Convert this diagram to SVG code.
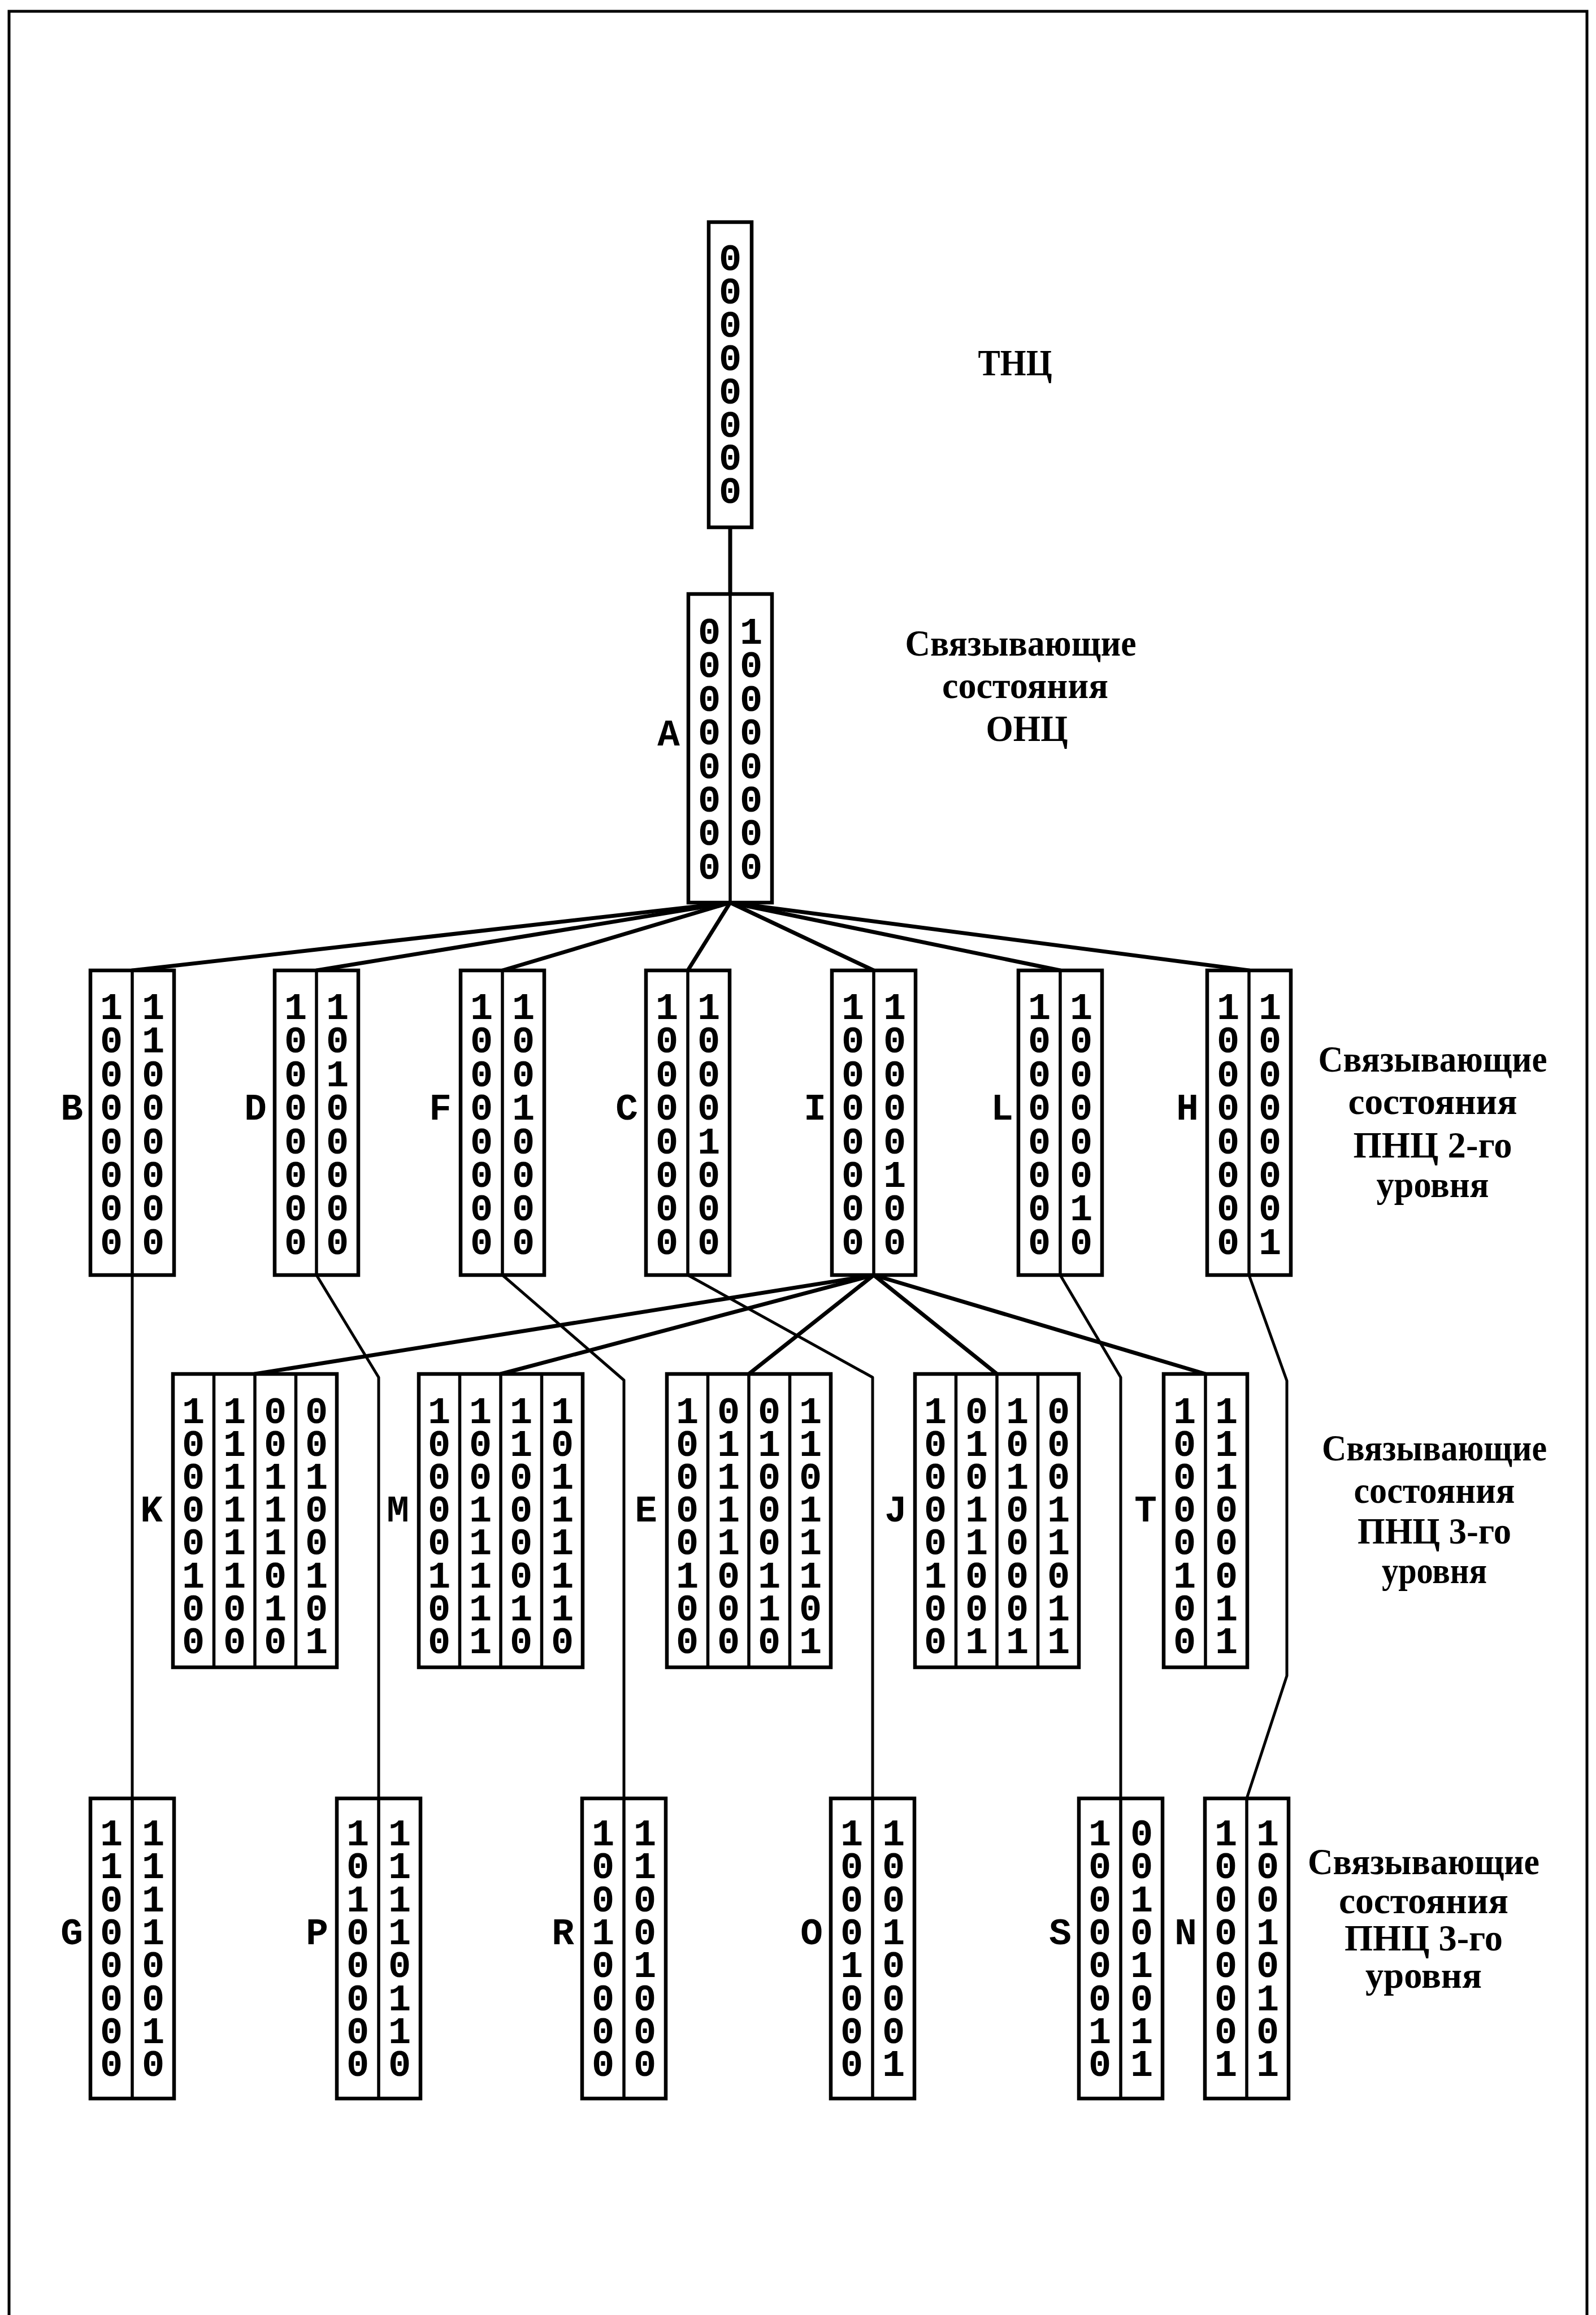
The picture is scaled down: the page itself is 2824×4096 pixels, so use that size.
<svg xmlns="http://www.w3.org/2000/svg" width="2824" height="4096" viewBox="0 0 2824 4096">
<style>
.box{fill:#fff;stroke:#000;stroke-width:6.5}
.dv{stroke:#000;stroke-width:5.5}
.d{font-family:"Liberation Mono",monospace;font-size:67px;font-weight:700;text-anchor:middle;fill:#000}
.nl{font-family:"Liberation Mono",monospace;font-size:66px;font-weight:700;text-anchor:middle;fill:#000}
.lb{font-family:"Liberation Serif",serif;font-size:66px;font-weight:700;text-anchor:middle;fill:#000}
.c{fill:none;stroke:#000;stroke-width:7;stroke-linecap:round;stroke-linejoin:round}
.ct{fill:none;stroke:#000;stroke-width:5;stroke-linecap:round;stroke-linejoin:round}
.fr{fill:none;stroke:#000;stroke-width:5}
</style>
<rect width="2824" height="4096" fill="#fff"/>
<path class="fr" d="M16,4096 L16,20 L2808,20 L2808,4096"/>

<g id="connectors">
<path class="c" d="M1292,933 L1292,1051"/>
<path class="c" d="M1292,1597 L234,1717"/>
<path class="c" d="M1292,1597 L560,1717"/>
<path class="c" d="M1292,1597 L889,1717"/>
<path class="c" d="M1292,1597 L1217,1717"/>
<path class="c" d="M1292,1597 L1546,1717"/>
<path class="c" d="M1292,1597 L1876,1717"/>
<path class="c" d="M1292,1597 L2210,1717"/>
<path class="c" d="M1546,2256 L451,2431"/>
<path class="c" d="M1546,2256 L886,2431"/>
<path class="c" d="M1546,2256 L1325,2431"/>
<path class="c" d="M1546,2256 L1764,2431"/>
<path class="c" d="M1546,2256 L2133,2431"/>
<path class="ct" d="M234,2256 L234,3182"/>
<path class="ct" d="M560,2256 L670,2437 L670,3182"/>
<path class="ct" d="M889,2256 L1104,2442 L1104,3182"/>
<path class="ct" d="M1217,2256 L1544,2437 L1544,3182"/>
<path class="ct" d="M1876,2256 L1983,2437 L1983,3182"/>
<path class="ct" d="M2210,2256 L2277,2443 L2277,2965 L2206,3182"/>
</g>

<g id="node-TNC">
<rect class="box" x="1254" y="393" width="76" height="540"/>
<text class="d" x="1292 1292 1292 1292 1292 1292 1292 1292" y="478 537 596 655 714 773 831 890">00000000</text>
</g>

<g id="node-A">
<rect class="box" x="1218" y="1051" width="148" height="546"/>
<line class="dv" x1="1292" y1="1051" x2="1292" y2="1597"/>
<text class="d" x="1255 1255 1255 1255 1255 1255 1255 1255" y="1139 1198 1258 1317 1377 1436 1495 1555">00000000</text>
<text class="d" x="1329 1329 1329 1329 1329 1329 1329 1329" y="1139 1198 1258 1317 1377 1436 1495 1555">10000000</text>
<text class="nl" x="1183" y="1319">A</text>
</g>

<g id="node-B">
<rect class="box" x="160" y="1717" width="148" height="539"/>
<line class="dv" x1="234" y1="1717" x2="234" y2="2256"/>
<text class="d" x="197 197 197 197 197 197 197 197" y="1803 1862 1922 1981 2041 2100 2159 2219">10000000</text>
<text class="d" x="271 271 271 271 271 271 271 271" y="1803 1862 1922 1981 2041 2100 2159 2219">11000000</text>
<text class="nl" x="127" y="1981">B</text>
</g>
<g id="node-D">
<rect class="box" x="486" y="1717" width="148" height="539"/>
<line class="dv" x1="560" y1="1717" x2="560" y2="2256"/>
<text class="d" x="523 523 523 523 523 523 523 523" y="1803 1862 1922 1981 2041 2100 2159 2219">10000000</text>
<text class="d" x="597 597 597 597 597 597 597 597" y="1803 1862 1922 1981 2041 2100 2159 2219">10100000</text>
<text class="nl" x="452" y="1981">D</text>
</g>
<g id="node-F">
<rect class="box" x="815" y="1717" width="148" height="539"/>
<line class="dv" x1="889" y1="1717" x2="889" y2="2256"/>
<text class="d" x="852 852 852 852 852 852 852 852" y="1803 1862 1922 1981 2041 2100 2159 2219">10000000</text>
<text class="d" x="926 926 926 926 926 926 926 926" y="1803 1862 1922 1981 2041 2100 2159 2219">10010000</text>
<text class="nl" x="779" y="1981">F</text>
</g>
<g id="node-C">
<rect class="box" x="1143" y="1717" width="148" height="539"/>
<line class="dv" x1="1217" y1="1717" x2="1217" y2="2256"/>
<text class="d" x="1180 1180 1180 1180 1180 1180 1180 1180" y="1803 1862 1922 1981 2041 2100 2159 2219">10000000</text>
<text class="d" x="1254 1254 1254 1254 1254 1254 1254 1254" y="1803 1862 1922 1981 2041 2100 2159 2219">10001000</text>
<text class="nl" x="1109" y="1981">C</text>
</g>
<g id="node-I">
<rect class="box" x="1472" y="1717" width="148" height="539"/>
<line class="dv" x1="1546" y1="1717" x2="1546" y2="2256"/>
<text class="d" x="1509 1509 1509 1509 1509 1509 1509 1509" y="1803 1862 1922 1981 2041 2100 2159 2219">10000000</text>
<text class="d" x="1583 1583 1583 1583 1583 1583 1583 1583" y="1803 1862 1922 1981 2041 2100 2159 2219">10000100</text>
<text class="nl" x="1442" y="1981">I</text>
</g>
<g id="node-L">
<rect class="box" x="1802" y="1717" width="148" height="539"/>
<line class="dv" x1="1876" y1="1717" x2="1876" y2="2256"/>
<text class="d" x="1839 1839 1839 1839 1839 1839 1839 1839" y="1803 1862 1922 1981 2041 2100 2159 2219">10000000</text>
<text class="d" x="1913 1913 1913 1913 1913 1913 1913 1913" y="1803 1862 1922 1981 2041 2100 2159 2219">10000010</text>
<text class="nl" x="1773" y="1981">L</text>
</g>
<g id="node-H">
<rect class="box" x="2136" y="1717" width="148" height="539"/>
<line class="dv" x1="2210" y1="1717" x2="2210" y2="2256"/>
<text class="d" x="2173 2173 2173 2173 2173 2173 2173 2173" y="1803 1862 1922 1981 2041 2100 2159 2219">10000000</text>
<text class="d" x="2247 2247 2247 2247 2247 2247 2247 2247" y="1803 1862 1922 1981 2041 2100 2159 2219">10000001</text>
<text class="nl" x="2101" y="1981">H</text>
</g>

<g id="node-K">
<rect class="box" x="306" y="2431" width="290" height="519"/>
<line class="dv" x1="378.5" y1="2431" x2="378.5" y2="2950"/>
<line class="dv" x1="451" y1="2431" x2="451" y2="2950"/>
<line class="dv" x1="523.5" y1="2431" x2="523.5" y2="2950"/>
<text class="d" x="342 342 342 342 342 342 342 342" y="2518 2576 2634 2692 2750 2809 2867 2925">10000100</text>
<text class="d" x="415 415 415 415 415 415 415 415" y="2518 2576 2634 2692 2750 2809 2867 2925">11111100</text>
<text class="d" x="487 487 487 487 487 487 487 487" y="2518 2576 2634 2692 2750 2809 2867 2925">00111010</text>
<text class="d" x="560 560 560 560 560 560 560 560" y="2518 2576 2634 2692 2750 2809 2867 2925">00100101</text>
<text class="nl" x="268" y="2692">K</text>
</g>
<g id="node-M">
<rect class="box" x="741" y="2431" width="290" height="519"/>
<line class="dv" x1="813.5" y1="2431" x2="813.5" y2="2950"/>
<line class="dv" x1="886" y1="2431" x2="886" y2="2950"/>
<line class="dv" x1="958.5" y1="2431" x2="958.5" y2="2950"/>
<text class="d" x="777 777 777 777 777 777 777 777" y="2518 2576 2634 2692 2750 2809 2867 2925">10000100</text>
<text class="d" x="850 850 850 850 850 850 850 850" y="2518 2576 2634 2692 2750 2809 2867 2925">10011111</text>
<text class="d" x="922 922 922 922 922 922 922 922" y="2518 2576 2634 2692 2750 2809 2867 2925">11000010</text>
<text class="d" x="995 995 995 995 995 995 995 995" y="2518 2576 2634 2692 2750 2809 2867 2925">10111110</text>
<text class="nl" x="704" y="2692">M</text>
</g>
<g id="node-E">
<rect class="box" x="1180" y="2431" width="290" height="519"/>
<line class="dv" x1="1252.5" y1="2431" x2="1252.5" y2="2950"/>
<line class="dv" x1="1325" y1="2431" x2="1325" y2="2950"/>
<line class="dv" x1="1397.5" y1="2431" x2="1397.5" y2="2950"/>
<text class="d" x="1216 1216 1216 1216 1216 1216 1216 1216" y="2518 2576 2634 2692 2750 2809 2867 2925">10000100</text>
<text class="d" x="1289 1289 1289 1289 1289 1289 1289 1289" y="2518 2576 2634 2692 2750 2809 2867 2925">01111000</text>
<text class="d" x="1361 1361 1361 1361 1361 1361 1361 1361" y="2518 2576 2634 2692 2750 2809 2867 2925">01000110</text>
<text class="d" x="1434 1434 1434 1434 1434 1434 1434 1434" y="2518 2576 2634 2692 2750 2809 2867 2925">11011101</text>
<text class="nl" x="1143" y="2692">E</text>
</g>
<g id="node-J">
<rect class="box" x="1619" y="2431" width="290" height="519"/>
<line class="dv" x1="1691.5" y1="2431" x2="1691.5" y2="2950"/>
<line class="dv" x1="1764" y1="2431" x2="1764" y2="2950"/>
<line class="dv" x1="1836.5" y1="2431" x2="1836.5" y2="2950"/>
<text class="d" x="1655 1655 1655 1655 1655 1655 1655 1655" y="2518 2576 2634 2692 2750 2809 2867 2925">10000100</text>
<text class="d" x="1728 1728 1728 1728 1728 1728 1728 1728" y="2518 2576 2634 2692 2750 2809 2867 2925">01011001</text>
<text class="d" x="1800 1800 1800 1800 1800 1800 1800 1800" y="2518 2576 2634 2692 2750 2809 2867 2925">10100001</text>
<text class="d" x="1873 1873 1873 1873 1873 1873 1873 1873" y="2518 2576 2634 2692 2750 2809 2867 2925">00011011</text>
<text class="nl" x="1585" y="2692">J</text>
</g>
<g id="node-T">
<rect class="box" x="2059" y="2431" width="148" height="519"/>
<line class="dv" x1="2133" y1="2431" x2="2133" y2="2950"/>
<text class="d" x="2096 2096 2096 2096 2096 2096 2096 2096" y="2518 2576 2634 2692 2750 2809 2867 2925">10000100</text>
<text class="d" x="2170 2170 2170 2170 2170 2170 2170 2170" y="2518 2576 2634 2692 2750 2809 2867 2925">11100011</text>
<text class="nl" x="2027" y="2692">T</text>
</g>

<g id="node-G">
<rect class="box" x="160" y="3182" width="148" height="531"/>
<line class="dv" x1="234" y1="3182" x2="234" y2="3713"/>
<text class="d" x="197 197 197 197 197 197 197 197" y="3265 3323 3382 3440 3498 3557 3615 3673">11000000</text>
<text class="d" x="271 271 271 271 271 271 271 271" y="3265 3323 3382 3440 3498 3557 3615 3673">11110010</text>
<text class="nl" x="127" y="3440">G</text>
</g>
<g id="node-P">
<rect class="box" x="596" y="3182" width="148" height="531"/>
<line class="dv" x1="670" y1="3182" x2="670" y2="3713"/>
<text class="d" x="633 633 633 633 633 633 633 633" y="3265 3323 3382 3440 3498 3557 3615 3673">10100000</text>
<text class="d" x="707 707 707 707 707 707 707 707" y="3265 3323 3382 3440 3498 3557 3615 3673">11110110</text>
<text class="nl" x="561" y="3440">P</text>
</g>
<g id="node-R">
<rect class="box" x="1030" y="3182" width="148" height="531"/>
<line class="dv" x1="1104" y1="3182" x2="1104" y2="3713"/>
<text class="d" x="1067 1067 1067 1067 1067 1067 1067 1067" y="3265 3323 3382 3440 3498 3557 3615 3673">10010000</text>
<text class="d" x="1141 1141 1141 1141 1141 1141 1141 1141" y="3265 3323 3382 3440 3498 3557 3615 3673">11001000</text>
<text class="nl" x="996" y="3440">R</text>
</g>
<g id="node-O">
<rect class="box" x="1470" y="3182" width="148" height="531"/>
<line class="dv" x1="1544" y1="3182" x2="1544" y2="3713"/>
<text class="d" x="1507 1507 1507 1507 1507 1507 1507 1507" y="3265 3323 3382 3440 3498 3557 3615 3673">10001000</text>
<text class="d" x="1581 1581 1581 1581 1581 1581 1581 1581" y="3265 3323 3382 3440 3498 3557 3615 3673">10010001</text>
<text class="nl" x="1436" y="3440">O</text>
</g>
<g id="node-S">
<rect class="box" x="1909" y="3182" width="148" height="531"/>
<line class="dv" x1="1983" y1="3182" x2="1983" y2="3713"/>
<text class="d" x="1946 1946 1946 1946 1946 1946 1946 1946" y="3265 3323 3382 3440 3498 3557 3615 3673">10000010</text>
<text class="d" x="2020 2020 2020 2020 2020 2020 2020 2020" y="3265 3323 3382 3440 3498 3557 3615 3673">00101011</text>
<text class="nl" x="1876" y="3440">S</text>
</g>
<g id="node-N">
<rect class="box" x="2132" y="3182" width="148" height="531"/>
<line class="dv" x1="2206" y1="3182" x2="2206" y2="3713"/>
<text class="d" x="2169 2169 2169 2169 2169 2169 2169 2169" y="3265 3323 3382 3440 3498 3557 3615 3673">10000001</text>
<text class="d" x="2243 2243 2243 2243 2243 2243 2243 2243" y="3265 3323 3382 3440 3498 3557 3615 3673">10010101</text>
<text class="nl" x="2098" y="3440">N</text>
</g>

<g id="labels">
<text class="lb" x="1796" y="664" textLength="131" lengthAdjust="spacingAndGlyphs">ТНЦ</text>
<text class="lb" x="1806" y="1160" textLength="409" lengthAdjust="spacingAndGlyphs">Связывающие</text>
<text class="lb" x="1814" y="1235" textLength="294" lengthAdjust="spacingAndGlyphs">состояния</text>
<text class="lb" x="1817" y="1311" textLength="145" lengthAdjust="spacingAndGlyphs">ОНЦ</text>

<text class="lb" x="2535" y="1896" textLength="405" lengthAdjust="spacingAndGlyphs">Связывающие</text>
<text class="lb" x="2535" y="1971" textLength="299" lengthAdjust="spacingAndGlyphs">состояния</text>
<text class="lb" x="2535" y="2048" textLength="281" lengthAdjust="spacingAndGlyphs">ПНЦ 2-го</text>
<text class="lb" x="2535" y="2118" textLength="199" lengthAdjust="spacingAndGlyphs">уровня</text>

<text class="lb" x="2538" y="2584" textLength="398" lengthAdjust="spacingAndGlyphs">Связывающие</text>
<text class="lb" x="2538" y="2659" textLength="285" lengthAdjust="spacingAndGlyphs">состояния</text>
<text class="lb" x="2538" y="2731" textLength="272" lengthAdjust="spacingAndGlyphs">ПНЦ 3-го</text>
<text class="lb" x="2538" y="2801" textLength="186" lengthAdjust="spacingAndGlyphs">уровня</text>

<text class="lb" x="2519" y="3316" textLength="410" lengthAdjust="spacingAndGlyphs">Связывающие</text>
<text class="lb" x="2519" y="3385" textLength="300" lengthAdjust="spacingAndGlyphs">состояния</text>
<text class="lb" x="2519" y="3451" textLength="280" lengthAdjust="spacingAndGlyphs">ПНЦ 3-го</text>
<text class="lb" x="2519" y="3517" textLength="206" lengthAdjust="spacingAndGlyphs">уровня</text>
</g>
</svg>
